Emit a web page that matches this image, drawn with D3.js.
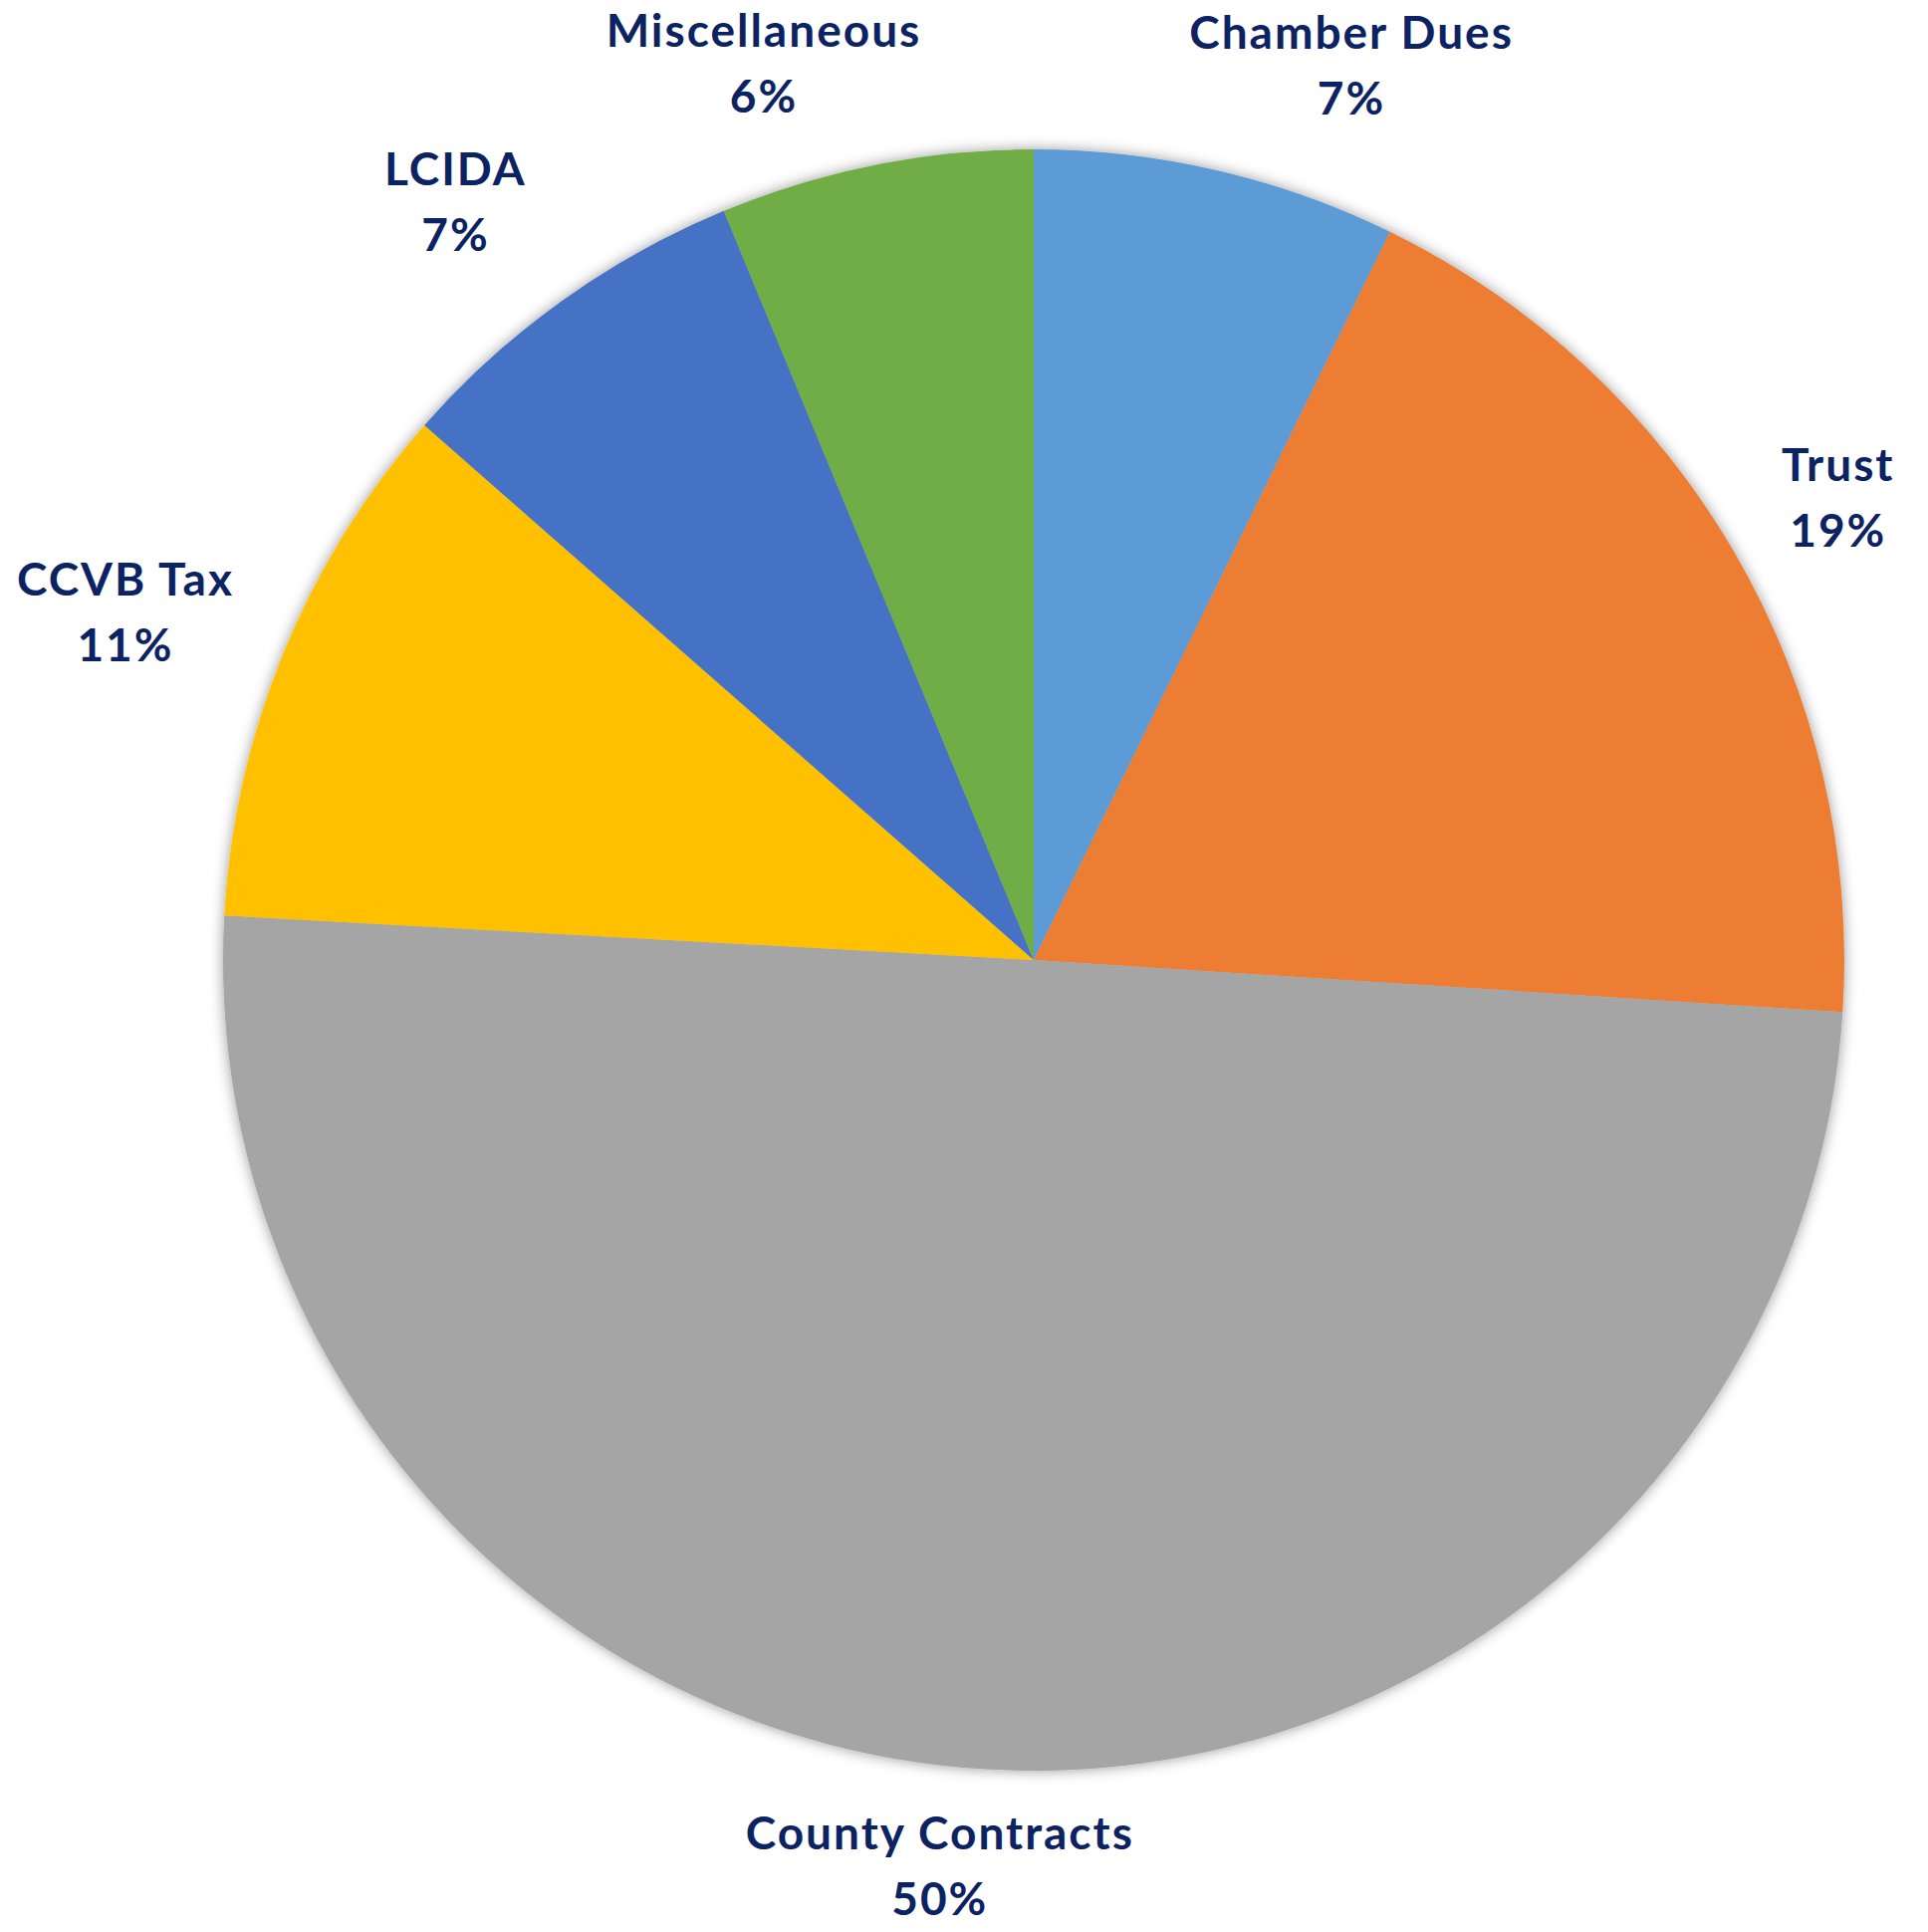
<!DOCTYPE html>
<html>
<head>
<meta charset="utf-8">
<script src="https://cdn.jsdelivr.net/npm/d3@7/dist/d3.min.js"></script>
<style>
  body { margin: 0; background: #fff; }
  text { font-family: Lato, "Open Sans", sans-serif; font-weight: bold; letter-spacing: 2px; }
</style>
</head>
<body>
<svg id="chart"></svg>
<script>
// slice order goes clockwise from 12 o'clock, like the excel chart
var categories = ["Chamber Dues", "Trust", "County Contracts", "CCVB Tax", "LCIDA", "Miscellaneous"];
var shares = [7.25, 18.8, 49.9, 10.6, 7.3, 6.25];
var colors = ["#5B9BD5", "#ED7D31", "#A5A5A5", "#FFC000", "#4472C4", "#70AD47"];

// excel moved some labels off the slice middle, so small tweaks here (degrees, radius)
var labelTweak = {
    "Chamber Dues": [6.5, 954],
    "Trust": [0.2, 932],
    "County Contracts": [2.5, 914],
    "CCVB Tax": [-1.2, 977],
    "LCIDA": [-1.7, 958],
    "Miscellaneous": [-5.5, 941]
};

var screen = { width: 1936, height: 1940 };
var cx = 1038, cy = 964, radius = 814;

var svg = d3.select("#chart")
    .attr("width", screen.width)
    .attr("height", screen.height);

var defs = svg.append("defs");
defs.append("filter")
    .attr("id", "shadow")
    .attr("x", "-10%").attr("y", "-10%")
    .attr("width", "120%").attr("height", "120%")
  .append("feDropShadow")
    .attr("dx", 0).attr("dy", 0)
    .attr("stdDeviation", 7)
    .attr("flood-color", "#000")
    .attr("flood-opacity", 0.4);

var slices = categories.map(function(c, i) {
    return { name: c, value: shares[i], color: colors[i] };
});
var total = d3.sum(shares);

var pie = d3.pie()
    .sort(null)
    .value(function(d) { return d.value; });

var arc = d3.arc()
    .innerRadius(0)
    .outerRadius(radius);

var arcs = pie(slices);

var g = svg.append("g")
    .attr("transform", "translate(" + cx + "," + cy + ")");

g.append("g")
    .attr("filter", "url(#shadow)")
    .selectAll("path")
    .data(arcs)
    .enter()
    .append("path")
    .attr("d", arc)
    .attr("fill", function(d) { return d.data.color; });

var labelPos = function(d) {
    var t = labelTweak[d.data.name];
    var mid = (d.startAngle + d.endAngle) / 2 + t[0] * Math.PI / 180;
    var la = d3.arc().innerRadius(t[1]).outerRadius(t[1]);
    return la.centroid({ startAngle: mid, endAngle: mid });
};

var labels = g.append("g")
    .selectAll("g")
    .data(arcs)
    .enter()
    .append("g")
    .attr("transform", function(d) {
        var p = labelPos(d);
        return "translate(" + p[0] + "," + p[1] + ")";
    });

labels.append("text")
    .attr("text-anchor", "middle")
    .attr("y", -16)
    .attr("font-size", 46)
    .attr("fill", "#0B2263")
    .text(function(d) { return d.data.name; });

labels.append("text")
    .attr("text-anchor", "middle")
    .attr("y", 50)
    .attr("font-size", 46)
    .attr("fill", "#0B2263")
    .text(function(d) { return Math.round(d.data.value / total * 100) + "%"; });
</script>
</body>
</html>
